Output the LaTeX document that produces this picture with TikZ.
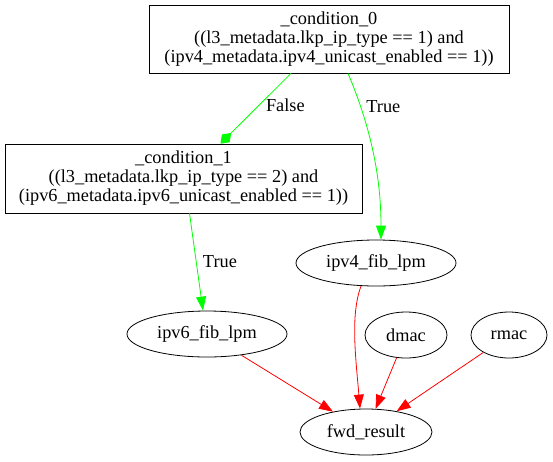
\documentclass[tikz,border=0pt]{standalone}
\usepackage{fontspec}
\setmainfont{Liberation Serif}
\usetikzlibrary{shapes.geometric,arrows.meta,positioning}

\begin{document}
\begin{tikzpicture}[
    x=1pt, y=-1pt,
    cond/.style={draw, rectangle, line width=0.8pt, align=center, inner sep=0pt, font=\fontsize{18.3pt}{19pt}\selectfont},
    tbl/.style={draw, ellipse, line width=0.8pt, inner sep=0pt, minimum height=46pt, font=\fontsize{18.3pt}{19pt}\selectfont},
    lbl/.style={text=black, font=\fontsize{18.3pt}{19pt}\selectfont},
    ctrl/.style={-{Triangle[length=14pt,width=10pt]}, green, line width=0.8pt},
    ctrlno/.style={-{Diamond[length=15pt,width=11pt]}, green, line width=0.8pt},
    dep/.style={-{Triangle[length=14pt,width=10pt]}, red, line width=0.8pt}
]
\useasboundingbox (0,0) rectangle (553,461);

% Conditions
\node[cond, minimum width=360pt, minimum height=68pt] (cond0) at (329,39) {\_condition\_0\\((l3\_metadata.lkp\_ip\_type == 1) and\\(ipv4\_metadata.ipv4\_unicast\_enabled == 1))};
\node[cond, minimum width=357pt, minimum height=69pt] (cond1) at (183.5,178.5) {\_condition\_1\\((l3\_metadata.lkp\_ip\_type == 2) and\\(ipv6\_metadata.ipv6\_unicast\_enabled == 1))};

% Tables
\node[tbl, minimum width=160pt] (ipv4) at (376,263) {ipv4\_fib\_lpm};
\node[tbl, minimum width=160pt] (ipv6) at (207,334) {ipv6\_fib\_lpm};
\node[tbl, minimum width=82pt] (dmac) at (406,335) {dmac};
\node[tbl, minimum width=76pt] (rmac) at (509,335) {rmac};
\node[tbl, minimum width=132pt] (fwd) at (366,432) {fwd\_result};

% Control flow
\draw[ctrlno] ([xshift=-38pt]cond0.south) -- ([xshift=37pt]cond1.north) node[lbl, pos=0.45, right=3pt] {False};
\draw[ctrl] ([xshift=19pt]cond0.south) .. controls (372,130) and (381,180) .. ([xshift=5pt]ipv4.north) node[lbl, pos=0.2, right=2pt] {True};
\draw[ctrl] ([xshift=6pt]cond1.south) -- ([xshift=-4pt]ipv6.north) node[lbl, midway, right=3pt] {True};

% Dependencies
\draw[dep] (ipv4.237) .. controls (350,315) and (356,360) .. ([xshift=-6pt]fwd.north);
\draw[dep] (ipv6) -- (fwd);
\draw[dep] (dmac) -- (fwd);
\draw[dep] (rmac) -- (fwd);

\end{tikzpicture}
\end{document}
